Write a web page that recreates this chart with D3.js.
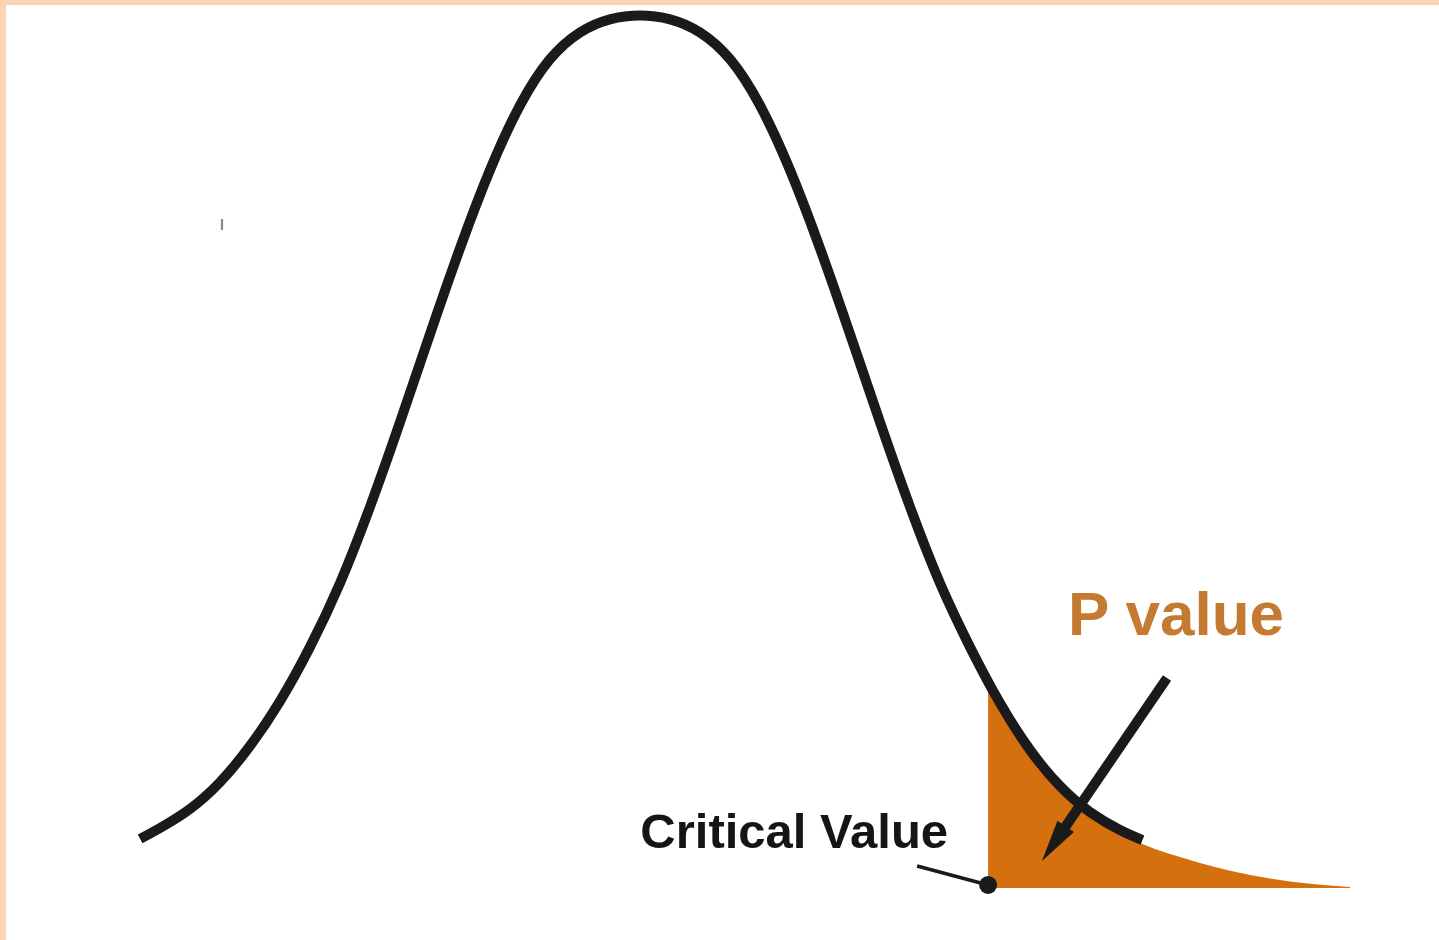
<!DOCTYPE html>
<html>
<head>
<meta charset="utf-8">
<script src="https://cdn.jsdelivr.net/npm/d3@7"></script>
<style>
  html, body { margin: 0; padding: 0; background: #ffffff; }
  svg { display: block; }
</style>
</head>
<body>
<svg id="chart" width="1439" height="940"></svg>
<script>
// ---- data ----
// bell curve: z-score and density
const curveZ = [-2.358, -2.264, -2.123, -1.981, -1.840, -1.698, -1.557, -1.415, -1.274, -1.132, -0.991, -0.849, -0.708, -0.566, -0.425, -0.283, -0.142, 0,
                0.142, 0.283, 0.425, 0.566, 0.708, 0.849, 0.991, 1.132, 1.274, 1.415, 1.557, 1.698, 1.840, 1.981, 2.123, 2.264, 2.370];
const curveDensity = [0.0220, 0.0270, 0.0357, 0.0480, 0.0645, 0.0851, 0.1098, 0.1391, 0.1739, 0.2128, 0.2530, 0.2924, 0.3281, 0.3578, 0.3789, 0.3912, 0.3972, 0.3990,
                      0.3972, 0.3912, 0.3789, 0.3578, 0.3281, 0.2924, 0.2530, 0.2128, 0.1739, 0.1391, 0.1098, 0.0842, 0.0627, 0.0462, 0.0343, 0.0261, 0.0215];
// shaded tail (p value area)
const tailZ = [1.642, 1.854, 2.042, 2.193, 2.358, 2.642, 2.958, 3.349];
const tailDensity = [0.0901, 0.0595, 0.0384, 0.0279, 0.0201, 0.0110, 0.0041, 0.0000];
const criticalZ = 1.642;
const labels = { critical: "Critical Value", pvalue: "P value" };

// ---- scales ----
const W = 1439, H = 940;
const x = d3.scaleLinear().domain([-3, 3.5]).range([4, 1382]);
const y = d3.scaleLinear().domain([0, 0.4]).range([887, 13.2]);

const svg = d3.select("#chart");

// background + peach frame (top and left)
svg.append("rect").attr("x", 0).attr("y", 0).attr("width", W).attr("height", H).attr("fill", "#ffffff");
svg.append("rect").attr("x", 0).attr("y", 0).attr("width", W).attr("height", 5).attr("fill", "#fdd4b3");
svg.append("rect").attr("x", 0).attr("y", 0).attr("width", 6).attr("height", H).attr("fill", "#fdd4b3");

// small stray mark
svg.append("line").attr("x1", 222).attr("y1", 219).attr("x2", 222).attr("y2", 230)
  .attr("stroke", "#8a8a8a").attr("stroke-width", 2.2);

// tail area
const tailData = tailZ.map((z, i) => ({ z, d: tailDensity[i] }));
const area = d3.area()
  .x(p => x(p.z))
  .y0(y(0) + 1)
  .y1(p => y(p.d))
  .curve(d3.curveMonotoneX);
svg.append("path").datum(tailData)
  .attr("d", area)
  .attr("fill", "#d5700f");

// bell curve
const curveData = curveZ.map((z, i) => ({ z, d: curveDensity[i] }));
const line = d3.line()
  .x(p => x(p.z))
  .y(p => y(p.d))
  .curve(d3.curveNatural);
svg.append("path").datum(curveData)
  .attr("d", line)
  .attr("fill", "none")
  .attr("stroke", "#1a1a1a")
  .attr("stroke-width", 10)
  .attr("stroke-linecap", "butt");

// critical value marker
const cx = x(criticalZ), cy = y(0) - 2;
svg.append("line")
  .attr("x1", cx - 71).attr("y1", cy - 19)
  .attr("x2", cx).attr("y2", cy)
  .attr("stroke", "#1a1a1a").attr("stroke-width", 3.5);
svg.append("circle").attr("cx", cx).attr("cy", cy).attr("r", 9).attr("fill", "#1a1a1a");

svg.append("text")
  .attr("x", cx - 40).attr("y", 848)
  .attr("text-anchor", "end")
  .attr("font-family", "'Liberation Sans', Arial, sans-serif")
  .attr("font-weight", "bold")
  .attr("font-size", 49)
  .attr("fill", "#151515")
  .text(labels.critical);

// P value label
svg.append("text")
  .attr("x", 1068).attr("y", 635)
  .attr("font-family", "'Liberation Sans', Arial, sans-serif")
  .attr("font-weight", "bold")
  .attr("font-size", 62)
  .attr("fill", "#c47a30")
  .text(labels.pvalue);

// arrow
const start = [1167, 678], tip = [1042, 861];
const dx = tip[0] - start[0], dy = tip[1] - start[1];
const len = Math.hypot(dx, dy);
const ux = dx / len, uy = dy / len, px = -uy, py = ux;
const headLen = 42, headHalf = 10;
const base = [tip[0] - ux * headLen, tip[1] - uy * headLen];
svg.append("line")
  .attr("x1", start[0]).attr("y1", start[1])
  .attr("x2", base[0] + ux * 4).attr("y2", base[1] + uy * 4)
  .attr("stroke", "#1a1a1a").attr("stroke-width", 10);
svg.append("path")
  .attr("d", d3.line()([
    tip,
    [base[0] + px * headHalf, base[1] + py * headHalf],
    [base[0] - px * headHalf, base[1] - py * headHalf]
  ]) + "Z")
  .attr("fill", "#1a1a1a");
</script>
</body>
</html>
